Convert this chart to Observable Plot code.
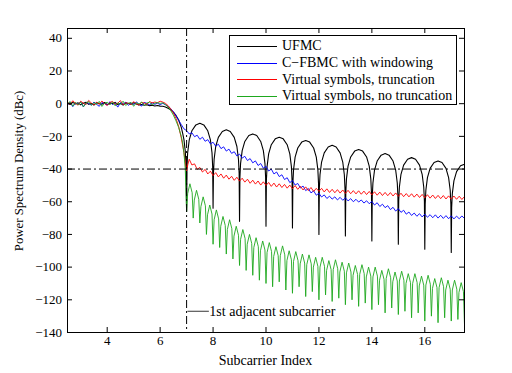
<!DOCTYPE html>
<html><head><meta charset="utf-8">
<script src="https://cdn.jsdelivr.net/npm/d3@7"></script>
<script src="https://cdn.jsdelivr.net/npm/@observablehq/plot@0.6"></script>
<style>
body{margin:0;background:#fff;}
#wrap{position:relative;width:512px;height:373px;font-family:"Liberation Serif","Times New Roman",serif;}
#legend{position:absolute;left:229px;top:35px;width:228px;height:70px;border:1px solid #000;background:#fff;box-sizing:border-box;}
.row{position:absolute;left:0;height:16px;display:flex;align-items:center;font-size:14px;white-space:nowrap;color:#000;}
.sw{width:40px;height:0;border-top:1px solid;margin-left:7px;margin-right:5px;}
</style></head><body><div id="wrap"></div>
<script>
// ---------- data ----------
const seriesNames = ["UFMC", "C\u2212FBMC with windowing", "Virtual symbols, truncation", "Virtual symbols, no truncation"];
const seriesColors = ["#000000", "#0000ff", "#ff0000", "#1ea81e"];
const xTicks = [4, 6, 8, 10, 12, 14, 16];
const yTicks = [-140, -120, -100, -80, -60, -40, -20, 0, 20, 40];
const thresholdY = -40;
const adjacentX = 7;
const annotation = [{x1: 7.05, x2: 7.86, y: -127, label: "1st adjacent subcarrier"}];

// flat in-band region (shared x grid)
const flatX = [2.5,2.6,2.7,2.8,2.9,3.0,3.1,3.2,3.3,3.4,3.5,3.6,3.7,3.8,3.9,4.0,4.1,4.2,4.3,4.4,4.5,4.6,4.7,4.8,4.9,5.0,5.1,5.2,5.3,5.4,5.5,5.6,5.7,5.8,5.9,6.0];
const ufmcFlat = [0.3,-0.5,0.8,-0.2,0.5,-0.7,0.2,0.9,-0.4,0.1,-0.8,0.6,0.0,-0.3,0.7,-0.6,0.4,-0.1,0.8,-0.5,0.2,-0.9,0.5,0.1,-0.4,0.6,-0.2,-0.8,-0.5,-1.0,-0.7,-1.2,-0.9,-1.4,-1.1,-1.5];
const cfbmcFlat = [-0.6,0.9,-1.8,0.4,-0.3,1.1,-2.0,0.5,0.2,-0.9,1.0,-0.4,-1.6,0.7,0.1,-0.8,1.2,-0.5,0.3,-2.1,0.6,-0.2,0.9,-1.0,0.4,-0.6,1.1,-0.3,-1.5,0.8,0.2,-0.7,0.5,-0.4,0.3,-0.6];
const vsTruncFlat = [1.0,-0.4,1.8,0.2,-0.9,1.5,0.3,-0.6,2.0,0.4,-0.8,0.9,-0.3,1.6,0.1,-1.1,0.7,1.4,-0.5,0.3,1.9,-0.7,0.5,0.2,-0.4,1.2,0.0,-0.9,0.8,0.4,-0.3,1.3,0.5,1.0,0.6,1.5];
const vsNoTruncFlat = [-0.2,1.3,-1.5,0.8,-0.6,1.0,-1.9,0.4,1.2,-1.0,0.6,-0.3,1.4,-1.7,0.2,0.9,-0.8,1.1,-1.3,0.5,-0.4,1.5,-1.1,0.3,0.8,-1.6,0.6,-0.2,1.0,-1.2,0.4,0.9,-0.7,0.3,0.6,0.2];

// band edge roll-off
const ufmcTransX = [6.1,6.2,6.3,6.4,6.5,6.6,6.7,6.8,6.85,6.9,6.95,6.98,7.0];
const ufmcTransY = [-1.6,-2.0,-2.8,-3.8,-5.2,-7.2,-10,-14.5,-18,-22,-29,-38,-66];
const cfbmcTransX = [6.1,6.2,6.3,6.4,6.5,6.6,6.7,6.8,6.9];
const cfbmcTransY = [0.2,-0.6,-1.5,-3.0,-5.0,-7.5,-10.2,-12.8,-15.4];
const vsTruncTransX = [6.1,6.2,6.3,6.4,6.5,6.6,6.7,6.8,6.9,6.95,7.0,7.05];
const vsTruncTransY = [1.0,0.2,-1.2,-3.2,-5.8,-9,-14,-21,-30,-36,-41,-37];
const vsNoTruncTransX = [6.1,6.2,6.3,6.4,6.5,6.6,6.7,6.8,6.85,6.9,6.95];
const vsNoTruncTransY = [0.5,-0.6,-2.0,-4.2,-7.0,-10.5,-14.5,-20,-24,-30,-40];

// UFMC out-of-band arches
const ufmcArchX = [
 7.015,7.04,7.1,7.2,7.35,7.5,7.65,7.8,7.9,7.96,7.985,8,
 8.015,8.04,8.1,8.2,8.35,8.5,8.65,8.8,8.9,8.96,8.985,9,
 9.015,9.04,9.1,9.2,9.35,9.5,9.65,9.8,9.9,9.96,9.985,10,
 10.015,10.04,10.1,10.2,10.35,10.5,10.65,10.8,10.9,10.96,10.985,11,
 11.015,11.04,11.1,11.2,11.35,11.5,11.65,11.8,11.9,11.96,11.985,12,
 12.015,12.04,12.1,12.2,12.35,12.5,12.65,12.8,12.9,12.96,12.985,13,
 13.015,13.04,13.1,13.2,13.35,13.5,13.65,13.8,13.9,13.96,13.985,14,
 14.015,14.04,14.1,14.2,14.35,14.5,14.65,14.8,14.9,14.96,14.985,15,
 15.015,15.04,15.1,15.2,15.35,15.5,15.65,15.8,15.9,15.96,15.985,16,
 16.015,16.04,16.1,16.2,16.35,16.5,16.65,16.8,16.9,16.96,16.985,17,
 17.015,17.04,17.1,17.2,17.35,17.5];
const ufmcArchY = [
 -38.5,-30,-22.2,-16.6,-13,-12,-13,-16.6,-22.2,-30,-38.5,-64,
 -42.5,-34,-26.2,-20.6,-17,-16,-17,-20.6,-26.2,-34,-42.5,-72,
 -45,-36.5,-28.7,-23.1,-19.5,-18.5,-19.5,-23.1,-28.7,-36.5,-45,-75,
 -47,-38.5,-30.7,-25.1,-21.5,-20.5,-21.5,-25.1,-30.7,-38.5,-47,-76,
 -49,-40.5,-32.7,-27.1,-23.5,-22.5,-23.5,-27.1,-32.7,-40.5,-49,-80,
 -52,-43.5,-35.7,-30.1,-26.5,-25.5,-26.5,-30.1,-35.7,-43.5,-52,-81,
 -54.5,-46,-38.2,-32.6,-29,-28,-29,-32.6,-38.2,-46,-54.5,-84,
 -57,-48.5,-40.7,-35.1,-31.5,-30.5,-31.5,-35.1,-40.7,-48.5,-57,-86,
 -59.5,-51,-43.2,-37.6,-34,-33,-34,-37.6,-43.2,-51,-59.5,-89,
 -61.5,-53,-45.2,-39.6,-36,-35,-36,-39.6,-45.2,-53,-61.5,-91,
 -63.5,-55,-47.2,-41.6,-38,-37];

// out-of-band grid for C-FBMC and truncation curves
const tailX = [7.0,7.1,7.2,7.3,7.4,7.5,7.6,7.7,7.8,7.9,8.0,8.1,8.2,8.3,8.4,8.5,8.6,8.7,8.8,8.9,9.0,9.1,9.2,9.3,9.4,9.5,9.6,9.7,9.8,9.9,10.0,10.1,10.2,10.3,10.4,10.5,10.6,10.7,10.8,10.9,11.0,11.1,11.2,11.3,11.4,11.5,11.6,11.7,11.8,11.9,12.0,12.1,12.2,12.3,12.4,12.5,12.6,12.7,12.8,12.9,13.0,13.1,13.2,13.3,13.4,13.5,13.6,13.7,13.8,13.9,14.0,14.1,14.2,14.3,14.4,14.5,14.6,14.7,14.8,14.9,15.0,15.1,15.2,15.3,15.4,15.5,15.6,15.7,15.8,15.9,16.0,16.1,16.2,16.3,16.4,16.5,16.6,16.7,16.8,16.9,17.0,17.1,17.2,17.3,17.4,17.5];
const cfbmcTail = [-16.5,-18.5,-17.8,-20.2,-19.3,-21.8,-20.5,-23.0,-22.0,-24.6,
 -23.6,-26.0,-24.8,-27.5,-26.4,-29.0,-27.8,-30.4,-29.4,-32.0,
 -30.8,-33.3,-32.2,-34.8,-33.6,-36.2,-35.0,-37.8,-36.6,-39.5,
 -38.3,-41.2,-40.0,-43.0,-41.8,-44.6,-43.5,-46.4,-45.3,-48.3,
 -47.0,-49.8,-48.8,-51.6,-50.4,-53.2,-51.9,-54.6,-53.3,-56.0,
 -54.8,-57.1,-55.8,-58.0,-56.6,-58.4,-57.0,-58.9,-57.3,-59.1,
 -57.6,-59.5,-58.1,-60.0,-58.5,-60.2,-58.9,-60.8,-59.4,-61.2,
 -59.8,-62.0,-60.6,-62.9,-61.5,-63.6,-62.4,-64.8,-63.4,-65.7,
 -64.2,-66.5,-65.2,-67.6,-66.3,-68.4,-66.9,-68.9,-67.3,-69.3,
 -67.6,-69.5,-67.9,-69.8,-68.0,-70.0,-68.3,-70.2,-68.5,-70.4,
 -68.6,-70.5,-68.8,-70.4,-68.7,-70.2];
const vsTruncTail = [-34.0,-37.5,-36.8,-40.2,-39.0,-41.8,-40.2,-43.0,-41.3,
 -44.0,-42.2,-44.8,-43.0,-45.6,-43.7,-46.2,-44.4,-46.9,-45.0,
 -47.4,-45.6,-48.0,-46.2,-48.7,-46.8,-49.2,-47.3,-49.8,-47.8,
 -50.0,-48.2,-50.6,-48.6,-51.0,-49.0,-51.3,-49.4,-51.7,-49.8,
 -52.0,-50.1,-52.4,-50.5,-52.8,-50.9,-53.2,-51.3,-53.7,-51.8,
 -53.6,-51.8,-54.0,-52.1,-54.3,-52.4,-54.5,-52.6,-54.7,-52.8,
 -54.9,-53.0,-55.1,-53.2,-55.2,-53.3,-55.4,-53.5,-55.6,-53.7,
 -55.8,-53.9,-56.0,-54.1,-56.2,-54.3,-56.3,-54.4,-56.5,-54.6,
 -56.7,-54.8,-56.9,-55.0,-57.0,-55.1,-57.2,-55.3,-57.4,-55.5,
 -57.6,-55.7,-57.8,-55.9,-58.0,-56.1,-58.1,-56.2,-58.3,-56.4,
 -58.4,-56.5,-58.5,-56.6,-58.6,-56.8];

// no-truncation side lobes: nulls, rising shoulders, peaks, falling shoulders
const lobeNullX = [7,7.25,7.5,7.75,8,8.25,8.5,8.75,9,9.25,9.5,9.75,10,10.25,10.5,10.75,11,11.25,11.5,11.75,12,12.25,12.5,12.75,13,13.25,13.5,13.75,14,14.25,14.5,14.75,15,15.25,15.5,15.75,16,16.25,16.5,16.75,17,17.25,17.5];
const lobeNullY = [-66,-70,-73,-80,-86,-88,-92,-95,-99,-102,-105,-108,-110,-112,-109,-114,-116,-112,-118,-115,-120,-117,-121,-119,-123,-120,-124,-122,-126,-123,-128,-125,-129,-127,-131,-128,-133,-130,-134,-131,-133,-132,-135];
const lobeRiseX = [7.04,7.29,7.54,7.79,8.04,8.29,8.54,8.79,9.04,9.29,9.54,9.79,10.04,10.29,10.54,10.79,11.04,11.29,11.54,11.79,12.04,12.29,12.54,12.79,13.04,13.29,13.54,13.79,14.04,14.29,14.54,14.79,15.04,15.29,15.54,15.79,16.04,16.29,16.54,16.79,17.04,17.29];
const lobeRiseY = [-55,-59,-63,-68,-71,-75,-77,-81,-83,-86,-88,-90,-91,-93.5,-93,-96,-96.5,-98,-98.5,-100,-100,-102,-101.5,-103,-103.5,-105,-104.5,-106,-106,-108,-107,-109,-108.5,-110,-110,-111.5,-111,-113,-112.5,-114,-114,-115.5];
const lobePeakX = [7.125,7.375,7.625,7.875,8.125,8.375,8.625,8.875,9.125,9.375,9.625,9.875,10.125,10.375,10.625,10.875,11.125,11.375,11.625,11.875,12.125,12.375,12.625,12.875,13.125,13.375,13.625,13.875,14.125,14.375,14.625,14.875,15.125,15.375,15.625,15.875,16.125,16.375,16.625,16.875,17.125,17.375];
const lobePeakY = [-49,-53,-57,-62,-65,-69,-71,-75,-77,-80,-82,-84,-85,-87.5,-87,-90,-90.5,-92,-92.5,-94,-94,-96,-95.5,-97,-97.5,-99,-98.5,-100,-100,-102,-101,-103,-102.5,-104,-104,-105.5,-105,-107,-106.5,-108,-108,-109.5];
const lobeFallX = [7.21,7.46,7.71,7.96,8.21,8.46,8.71,8.96,9.21,9.46,9.71,9.96,10.21,10.46,10.71,10.96,11.21,11.46,11.71,11.96,12.21,12.46,12.71,12.96,13.21,13.46,13.71,13.96,14.21,14.46,14.71,14.96,15.21,15.46,15.71,15.96,16.21,16.46,16.71,16.96,17.21,17.46];
const lobeFallY = [-54.5,-58.5,-62.5,-67.5,-70.5,-74.5,-76.5,-80.5,-82.5,-85.5,-87.5,-89.5,-90.5,-93,-92.5,-95.5,-96,-97.5,-98,-99.5,-99.5,-101.5,-101,-102.5,-103,-104.5,-104,-105.5,-105.5,-107.5,-106.5,-108.5,-108,-109.5,-109.5,-111,-110.5,-112.5,-112,-113.5,-113.5,-115];

// ---------- build point tables ----------
const pts = (xs, ys) => xs.map((x, i) => ({x, y: ys[i]}));
const ufmc = [...pts(flatX, ufmcFlat), ...pts(ufmcTransX, ufmcTransY), ...pts(ufmcArchX, ufmcArchY)];
const cfbmc = [...pts(flatX, cfbmcFlat), ...pts(cfbmcTransX, cfbmcTransY), ...pts(tailX, cfbmcTail)];
const vsTrunc = [...pts(flatX, vsTruncFlat), ...pts(vsTruncTransX, vsTruncTransY), ...pts(tailX.slice(1), vsTruncTail)];
const lobes = [];
lobeNullX.forEach((x, i) => {
  lobes.push({x, y: lobeNullY[i]});
  if (i < lobePeakX.length) {
    lobes.push({x: lobeRiseX[i], y: lobeRiseY[i]});
    lobes.push({x: lobePeakX[i], y: lobePeakY[i]});
    lobes.push({x: lobeFallX[i], y: lobeFallY[i]});
  }
});
const vsNoTrunc = [...pts(flatX, vsNoTruncFlat), ...pts(vsNoTruncTransX, vsNoTruncTransY), ...lobes];
const curves = [ufmc, cfbmc, vsTrunc, vsNoTrunc];

// ---------- chart ----------
const FONT = "'Liberation Serif','Times New Roman',serif";
const fmt = d => (d < 0 ? "\u2212" : "") + Math.abs(d);
const W = 512, H = 373, mL = 67, mR = 48, mT = 28, mB = 41;
const fw = W - mL - mR, fh = H - mT - mB, tl = 5;
const dashDot = "8,3,2,3";

const chart = Plot.plot({
  width: W, height: H,
  marginLeft: mL, marginRight: mR, marginTop: mT, marginBottom: mB,
  x: {domain: [2.5, 17.5], axis: null},
  y: {domain: [-140, 46], axis: null},
  style: {fontFamily: FONT, fontSize: "13px", background: "white", color: "black", overflow: "visible"},
  marks: [
    ...curves.map((c, i) => Plot.line(c, {x: "x", y: "y", stroke: seriesColors[i], strokeWidth: i === 0 ? 1.1 : 0.9})),
    Plot.ruleX([adjacentX], {stroke: "#000", strokeWidth: 1, strokeDasharray: dashDot}),
    Plot.ruleY([thresholdY], {stroke: "#000", strokeWidth: 1, strokeDasharray: dashDot}),
    Plot.ruleY(annotation, {y: "y", x1: "x1", x2: "x2", stroke: "#000", strokeWidth: 0.8}),
    Plot.text(annotation, {x: "x2", y: "y", text: "label", textAnchor: "start", fontSize: 14, fontFamily: FONT, fill: "#000"}),
    Plot.tickX(xTicks, {x: d => d, insetTop: fh - tl, stroke: "#000"}),
    Plot.tickX(xTicks, {x: d => d, insetBottom: fh - tl, stroke: "#000"}),
    Plot.tickY(yTicks, {y: d => d, insetRight: fw - tl, stroke: "#000"}),
    Plot.tickY(yTicks, {y: d => d, insetLeft: fw - tl, stroke: "#000"}),
    Plot.text(xTicks, {x: d => d, frameAnchor: "bottom", dy: 12, text: fmt, fontSize: 13, fontFamily: FONT, fill: "#000"}),
    Plot.text(yTicks, {y: d => d, frameAnchor: "left", dx: -5.5, textAnchor: "end", text: fmt, fontSize: 13, fontFamily: FONT, fill: "#000"}),
    Plot.frame({stroke: "#000", strokeWidth: 1})
  ]
});

const svg = d3.select(chart);
svg.append("text")
  .attr("transform", "translate(19,171) rotate(-90)")
  .attr("text-anchor", "middle").attr("dominant-baseline", "central")
  .attr("font-size", 12.8).attr("font-family", FONT).attr("fill", "#000")
  .text("Power Spectrum Density (dBc)");
svg.append("text")
  .attr("x", mL + fw / 2).attr("y", 360)
  .attr("text-anchor", "middle").attr("dominant-baseline", "central")
  .attr("font-size", 14).attr("font-family", FONT).attr("fill", "#000")
  .text("Subcarrier Index");

const wrap = document.getElementById("wrap");
wrap.appendChild(chart);

// legend
const leg = document.createElement("div");
leg.id = "legend";
const rowTops = [2, 19, 35.5, 52];
seriesNames.forEach((name, i) => {
  const r = document.createElement("div");
  r.className = "row";
  r.style.top = rowTops[i] + "px";
  const sw = document.createElement("span");
  sw.className = "sw";
  sw.style.borderTopColor = seriesColors[i];
  const t = document.createElement("span");
  t.textContent = name;
  r.appendChild(sw); r.appendChild(t);
  leg.appendChild(r);
});
wrap.appendChild(leg);
</script>
</body></html>
